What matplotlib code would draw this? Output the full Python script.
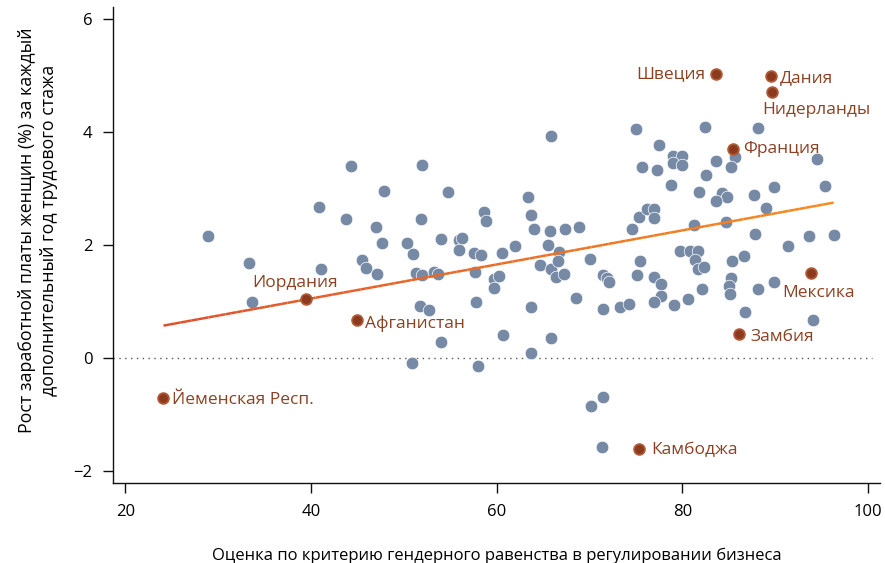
"""Scatter: gender equality score in business regulation vs. women's wage growth per year of experience."""

import matplotlib

matplotlib.use("Agg")
import matplotlib.pyplot as plt
import numpy as np
from matplotlib.collections import LineCollection
from matplotlib.colors import LinearSegmentedColormap

plt.rcParams["font.family"] = ["Open Sans", "DejaVu Sans"]

# --- data -----------------------------------------------------------------
score = [
    28.9, 33.3, 33.6, 40.9, 41.1, 43.8, 44.3, 45.5, 45.9, 47.0,
    47.1, 47.6, 47.9, 50.3, 51.0, 51.3, 52.0, 53.2, 53.7, 51.7,
    52.7, 54.0, 50.9, 51.9, 51.8, 54.0, 54.7, 55.9, 56.3, 55.9,
    57.5, 58.3, 57.7, 57.8, 58.0, 58.6, 58.9, 59.7, 60.3, 59.7,
    60.6, 60.7, 62.0, 63.4, 63.7, 64.0, 63.7, 63.7, 64.7, 65.8,
    66.4, 67.3, 65.5, 66.7, 66.6, 65.7, 65.9, 65.9, 67.4, 68.9,
    68.5, 70.0, 71.5, 71.9, 72.1, 71.4, 73.3, 74.3, 70.2, 71.4,
    71.3, 74.6, 75.0, 75.6, 75.3, 76.2, 77.0, 77.0, 75.4, 75.1,
    76.9, 77.7, 77.7, 76.9, 77.3, 77.5, 79.0, 80.0, 79.0, 80.0,
    78.8, 81.8, 82.4, 82.6, 83.6, 84.3, 84.8, 83.6, 81.3, 84.7,
    79.8, 80.8, 81.7, 81.4, 81.7, 82.3, 79.1, 80.6, 82.1, 85.7,
    85.2, 88.1, 87.7, 89.0, 89.9, 87.8, 86.6, 85.4, 85.2, 85.0,
    85.1, 88.1, 89.9, 86.7, 91.4, 93.6, 94.5, 95.4, 96.3, 94.1,
]
wage_growth = [
    2.15, 1.68, 1.00, 2.68, 1.58, 2.46, 3.39, 1.74, 1.60, 2.31,
    1.49, 2.04, 2.95, 2.03, 1.84, 1.51, 1.47, 1.52, 1.48, 0.92,
    0.85, 0.29, -0.08, 3.41, 2.46, 2.11, 2.93, 2.08, 2.13, 1.92,
    1.86, 1.83, 1.52, 0.99, -0.14, 2.59, 2.43, 1.40, 1.46, 1.24,
    1.85, 0.41, 1.98, 2.84, 2.53, 2.28, 0.90, 0.09, 1.65, 1.57,
    1.43, 1.49, 2.00, 1.88, 1.72, 2.24, 3.93, 0.35, 2.28, 2.31,
    1.06, 1.75, 1.47, 1.41, 1.35, 0.87, 0.91, 0.96, -0.84, -0.68,
    -1.57, 2.29, 4.05, 3.37, 2.50, 2.63, 2.64, 2.48, 1.72, 1.47,
    1.44, 1.31, 1.09, 0.99, 3.32, 3.76, 3.58, 3.57, 3.45, 3.42,
    3.06, 2.94, 4.09, 3.24, 3.48, 2.91, 2.84, 2.77, 2.36, 2.40,
    1.89, 1.90, 1.90, 1.74, 1.57, 1.61, 0.94, 1.04, 1.22, 3.56,
    3.37, 4.06, 2.88, 2.65, 3.02, 2.19, 1.81, 1.72, 1.41, 1.27,
    1.14, 1.23, 1.34, 0.82, 1.98, 2.15, 3.52, 3.04, 2.17, 0.68,
]

hl_names = ["Швеция", "Дания", "Нидерланды", "Франция", "Иордания",
            "Афганистан", "Йеменская Респ.", "Мексика", "Замбия", "Камбоджа"]
hl_score = [83.6, 89.5, 89.7, 85.5, 39.5, 44.9, 24.1, 93.9, 86.1, 75.3]
hl_growth = [5.02, 4.99, 4.70, 3.70, 1.05, 0.67, -0.71, 1.51, 0.42, -1.61]

# trend line as published (slope / intercept)
trend_slope = 0.0301
trend_intercept = -0.150

# label placement (pixel offsets from the dot, horizontal alignment)
label_layout = {
    "Швеция": (-10, 0, "right"),
    "Дания": (9, -2, "left"),
    "Нидерланды": (-10, -18, "left"),
    "Франция": (10, 0, "left"),
    "Иордания": (-11, 16, "center"),
    "Афганистан": (8, -3, "left"),
    "Йеменская Респ.": (9, -2, "left"),
    "Мексика": (-29, -20, "left"),
    "Замбия": (11, -3, "left"),
    "Камбоджа": (13, -1, "left"),
}

# --- style ----------------------------------------------------------------
DOT_BLUE = "#768aa5"
HL_FACE = "#8b3a1e"
HL_EDGE = "#b05a36"
LABEL_BROWN = "#8c4123"
FONT_SIZE = 12

fig = plt.figure(figsize=(8.85, 5.63), dpi=100)
ax = fig.add_axes([0.128, 0.1416, 0.8664, 0.8465])

ax.scatter(score, wage_growth, s=82, color=DOT_BLUE, edgecolors="white",
           linewidths=0.5, zorder=2)

# trend line across the observed score range, drawn with an orange gradient
all_x = np.array(score + hl_score)
xs = np.linspace(all_x.min(), all_x.max(), 120)
ys = trend_slope * xs + trend_intercept
pts = np.column_stack([xs, ys]).reshape(-1, 1, 2)
segs = np.concatenate([pts[:-1], pts[1:]], axis=1)
grad = LinearSegmentedColormap.from_list("trend", ["#df4f2d", "#f78b1e"])
lc = LineCollection(segs, cmap=grad, linewidths=1.8, zorder=3)
lc.set_array(np.linspace(0, 1, len(segs)))
ax.add_collection(lc)

ax.scatter(hl_score, hl_growth, s=60, color=HL_FACE, edgecolors=HL_EDGE,
           linewidths=1.3, zorder=4)
for name, x, y in zip(hl_names, hl_score, hl_growth):
    dx, dy, ha = label_layout[name]
    ax.annotate(name, (x, y), xytext=(dx, dy), textcoords="offset pixels",
                ha=ha, va="center", fontsize=FONT_SIZE + 0.5, color=LABEL_BROWN,
                zorder=5)

ax.axhline(0, xmin=0, xmax=0.99, color="#555555", linewidth=1.0,
           linestyle=(0, (1, 3.2)), zorder=1)

ax.set_xlim(18.69, 101.3)
ax.set_ylim(-2.21, 6.21)
ax.set_xticks([20, 40, 60, 80, 100])
ax.set_yticks([-2, 0, 2, 4, 6])
ax.set_yticklabels(["\u22122", "0", "2", "4", "6"])

for side in ("top", "right"):
    ax.spines[side].set_visible(False)
for side in ("left", "bottom"):
    ax.spines[side].set_linewidth(1.0)
    ax.spines[side].set_color("#111111")
ax.tick_params(axis="both", direction="out", length=7, width=1.0,
               color="#111111", labelsize=FONT_SIZE, pad=8)

ax.set_xlabel("Оценка по критерию гендерного равенства в регулировании бизнеса",
              fontsize=FONT_SIZE, labelpad=20)
ax.set_ylabel("Рост заработной платы женщин (%) за каждый\n"
              "дополнительный год трудового стажа",
              fontsize=FONT_SIZE + 0.8, multialignment="center", linespacing=1.3)
ax.yaxis.set_label_coords(-0.072, 0.53)

fig.savefig("out.png", dpi=100, facecolor="white")
plt.close(fig)
